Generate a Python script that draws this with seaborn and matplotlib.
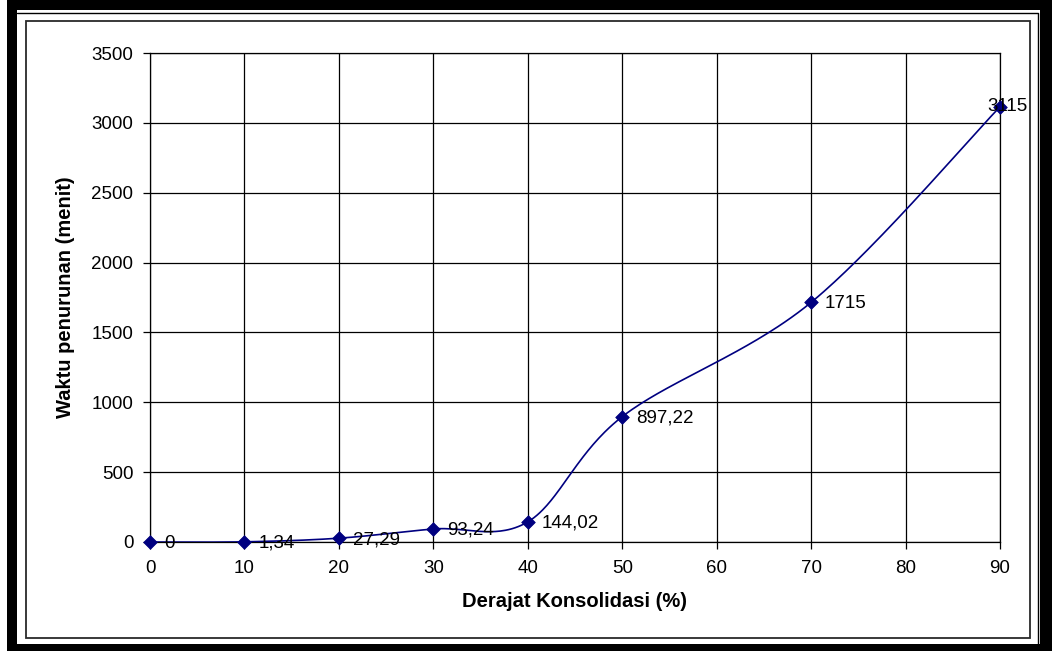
import numpy as np
import pandas as pd
import matplotlib
matplotlib.use("Agg")
import matplotlib.pyplot as plt
from matplotlib.patches import Rectangle
from matplotlib.lines import Line2D
import seaborn as sns

# ---- data ----
derajat = [0, 10, 20, 30, 40, 50, 70, 90]
waktu = [0, 1.34, 27.29, 93.24, 144.02, 897.22, 1715, 3115]
labels = ["0", "1,34", "27,29", "93,24", "144,02", "897,22", "1715", "3115"]
x_ticks = [0, 10, 20, 30, 40, 50, 60, 70, 80, 90]
y_ticks = [0, 500, 1000, 1500, 2000, 2500, 3000, 3500]

sns.set_theme(style="white")
plt.rcParams["font.family"] = ["Liberation Sans", "DejaVu Sans"]
plt.rcParams["text.color"] = "black"
plt.rcParams["axes.labelcolor"] = "black"

W, H = 1052, 651
fig = plt.figure(figsize=(W / 100, H / 100), dpi=100)
fig.patch.set_facecolor("white")

def fx(px):
    return px / W

def fy(py):
    return 1 - py / H

# outer decorative frame
fig.patches.append(Rectangle((fx(7), fy(651)), fx(1052) - fx(7), fy(0) - fy(651),
                             transform=fig.transFigure, facecolor="black", edgecolor="none", zorder=-5))
fig.patches.append(Rectangle((fx(17), fy(644)), fx(1040) - fx(17), fy(10) - fy(644),
                             transform=fig.transFigure, facecolor="white", edgecolor="none", zorder=-4))
fig.lines.append(Line2D([fx(17), fx(1038), fx(1038)], [fy(12.5), fy(12.5), fy(644)],
                        transform=fig.transFigure, color="black", lw=1.0, zorder=-3))
fig.patches.append(Rectangle((fx(25.5), fy(637.5)), fx(1030) - fx(25.5), fy(21) - fy(637.5),
                             transform=fig.transFigure, facecolor="none", edgecolor="#2a2a2a",
                             lw=1.3, zorder=-3))

ax = fig.add_axes([fx(150), fy(542), fx(1000) - fx(150), fy(53) - fy(542)])
ax.set_zorder(2)
ax.set_facecolor("white")

# Excel-style smoothed curve (Bezier through points)
xs = np.array(derajat, dtype=float)
ys = np.array(waktu, dtype=float)
P = np.column_stack([xs, ys])
n = len(P)
curve = []
t = np.linspace(0, 1, 60)
for i in range(n - 1):
    p0 = P[i]
    p3 = P[i + 1]
    pm = P[i - 1] if i > 0 else P[i]
    pp = P[i + 2] if i + 2 < n else P[i + 1]
    c1 = p0 + (p3 - pm) / 6.0
    c2 = p3 - (pp - p0) / 6.0
    seg = ((1 - t) ** 3)[:, None] * p0 + (3 * (1 - t) ** 2 * t)[:, None] * c1 \
        + (3 * (1 - t) * t ** 2)[:, None] * c2 + (t ** 3)[:, None] * p3
    curve.append(seg if i == 0 else seg[1:])
curve = np.vstack(curve)
curve_df = pd.DataFrame({"x": curve[:, 0], "y": curve[:, 1]})
pts_df = pd.DataFrame({"x": derajat, "y": waktu})

sns.lineplot(data=curve_df, x="x", y="y", ax=ax, color="#000080", lw=1.2,
             sort=False, estimator=None, zorder=3)
sns.scatterplot(data=pts_df, x="x", y="y", ax=ax, marker="D", color="#000080",
                s=48, edgecolor="#000080", zorder=4, clip_on=False)

for xv, yv, lab in zip(derajat, waktu, labels):
    if xv == x_ticks[-1]:
        ax.annotate(lab, (xv, yv), xytext=(-9, 0), textcoords="offset points",
                    ha="left", va="center", fontsize=13.5, color="black",
                    zorder=5, annotation_clip=False)
    else:
        ax.annotate(lab, (xv, yv), xytext=(10, -1), textcoords="offset points",
                    ha="left", va="center", fontsize=13.5, color="black", zorder=5)

ax.set_xlim(x_ticks[0], x_ticks[-1])
ax.set_ylim(y_ticks[0], y_ticks[-1])
ax.set_xticks(x_ticks)
ax.set_yticks(y_ticks)
ax.set_xticklabels([str(v) for v in x_ticks])
ax.set_yticklabels([str(v) for v in y_ticks])
ax.grid(True, color="black", lw=0.9)
ax.set_axisbelow(True)
for s in ax.spines.values():
    s.set_color("black")
    s.set_linewidth(0.9)
ax.tick_params(axis="both", which="major", direction="out", length=5, width=0.9,
               color="black", labelsize=13.5, labelcolor="black",
               left=True, bottom=True)
ax.tick_params(axis="y", pad=7)
ax.tick_params(axis="x", pad=8)

ax.set_xlabel("Derajat Konsolidasi (%)", fontsize=14.5, fontweight="bold",
              labelpad=11, color="black")
ax.set_ylabel("Waktu penurunan (menit)", fontsize=14.5, fontweight="bold",
              labelpad=12, color="black")

fig.savefig("out.png", dpi=100)
